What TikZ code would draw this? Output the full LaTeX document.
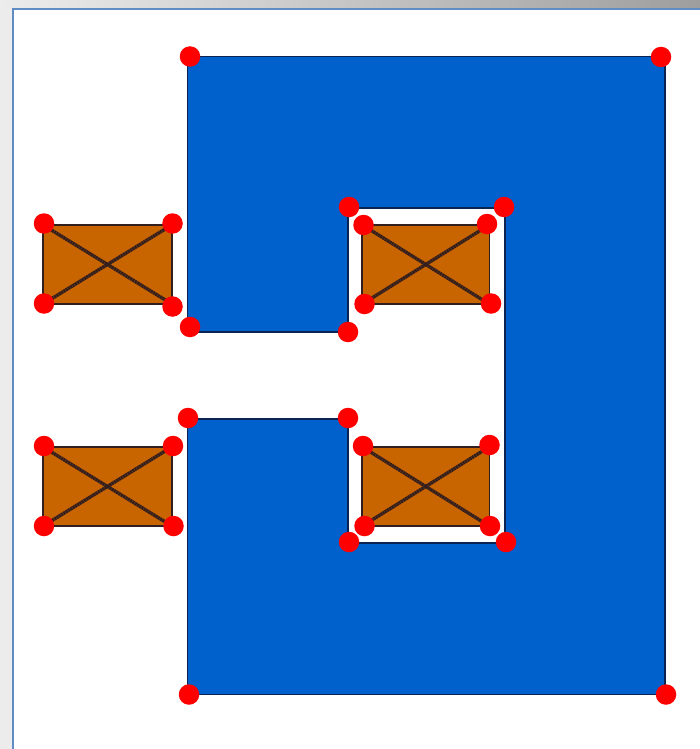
\documentclass[tikz,border=0pt]{standalone}
\usepackage{tikz}
\usetikzlibrary{positioning}
\definecolor{wallblue}{RGB}{0,97,204}
\definecolor{wallline}{RGB}{10,35,80}
\definecolor{crateorange}{RGB}{200,101,0}
\definecolor{crateline}{RGB}{50,30,30}
\definecolor{framegray}{RGB}{236,236,236}
\definecolor{frameblue}{RGB}{95,140,195}
\tikzset{
  x=1pt,y=-1pt,
  wall/.style={draw=wallline,fill=wallblue,line width=1.6pt,line join=miter},
  crate/.style={
    rectangle, draw=crateline, fill=crateorange, line width=1.7pt,
    anchor=north west, inner sep=0pt, outer sep=0pt
  },
  crossline/.style={draw=crateline,line width=3.4pt,dash pattern=on 2.2pt off 0.5pt},
  vertex/.style={circle, fill=red, minimum size=20.5pt, inner sep=0pt}
}
\begin{document}
\begin{tikzpicture}
  \useasboundingbox (0,0) rectangle (700,749);
  % window around the drawing
  \fill[framegray] (0,0) rectangle (12,749);
  \shade[left color=framegray,right color=black!38] (0,0) rectangle (700,9);
  \fill[white] (12,9) rectangle (700,749);
  \draw[frameblue,line width=2pt] (700,9.5) -- (12.5,9.5) -- (12.5,749);
  % wall outline
  \draw[wall] (187.5,56.5) -- (665,56.5) -- (665,694.5) -- (187.5,694.5) -- (187.5,419) -- (348,419)
    -- (348,543) -- (505,543) -- (505,208) -- (348,208) -- (348,332) -- (187.5,332) -- cycle;
  % crates
  \node[crate,minimum width=129.5pt,minimum height=79.5pt] (c1) at (42.7,224.7) {};
  \node[crate,minimum width=127.5pt,minimum height=79.5pt] (c2) at (362,224.7) {};
  \node[crate,minimum width=129.5pt,minimum height=79.5pt] (c3) at (42.7,446.7) {};
  \node[crate,minimum width=127.5pt,minimum height=79.5pt] (c4) at (362,446.7) {};
  \draw[crossline] (c1.north west) -- (c1.south east);
  \draw[crossline] (c1.south west) -- (c1.north east);
  \draw[crossline] (c2.north west) -- (c2.south east);
  \draw[crossline] (c2.south west) -- (c2.north east);
  \draw[crossline] (c3.north west) -- (c3.south east);
  \draw[crossline] (c3.south west) -- (c3.north east);
  \draw[crossline] (c4.north west) -- (c4.south east);
  \draw[crossline] (c4.south west) -- (c4.north east);
  % wall vertices
  \node[vertex] (w1) at (190,56.5) {};
  \node[vertex] (w2) at (661,57) {};
  \node[vertex] (w3) at (666,694.5) {};
  \node[vertex] (w4) at (189,694.5) {};
  \node[vertex] (w5) at (188,418) {};
  \node[vertex] (w6) at (348,418) {};
  \node[vertex] (w7) at (349,542) {};
  \node[vertex] (w8) at (506,542) {};
  \node[vertex] (w9) at (504,207) {};
  \node[vertex] (w10) at (349,207) {};
  \node[vertex] (w11) at (348,332) {};
  \node[vertex] (w12) at (190,327) {};
  % crate vertices
  \node[vertex] (c1a) at (44,223.5) {};
  \node[vertex] (c1b) at (172.5,223.5) {};
  \node[vertex] (c1c) at (172.5,306.5) {};
  \node[vertex] (c1d) at (44,303.5) {};
  \node[vertex] (c2a) at (363.5,225) {};
  \node[vertex] (c2b) at (487,224) {};
  \node[vertex] (c2c) at (491,303.5) {};
  \node[vertex] (c2d) at (364.5,304) {};
  \node[vertex] (c3a) at (44,446) {};
  \node[vertex] (c3b) at (173,446) {};
  \node[vertex] (c3c) at (173.5,526) {};
  \node[vertex] (c3d) at (44,526) {};
  \node[vertex] (c4a) at (363,446) {};
  \node[vertex] (c4b) at (489.5,445) {};
  \node[vertex] (c4c) at (490,526) {};
  \node[vertex] (c4d) at (364.5,526) {};
\end{tikzpicture}
\end{document}
